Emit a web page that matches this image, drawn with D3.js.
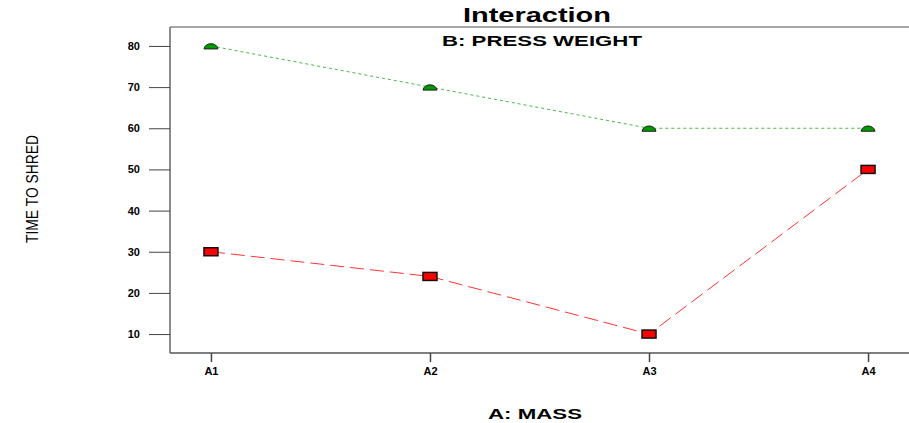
<!DOCTYPE html>
<html>
<head>
<meta charset="utf-8">
<script src="https://cdn.jsdelivr.net/npm/d3@7"></script>
<style>
body { margin: 0; background: #fff; }
text { font-family: "Liberation Sans", Arial, sans-serif; }
</style>
</head>
<body>
<div id="chart"></div>
<script>
var categories = ["A1", "A2", "A3", "A4"];
var greenValues = [80, 70, 60, 60];
var redValues = [30, 24, 10, 50];
var yTicks = [10, 20, 30, 40, 50, 60, 70, 80];

var width = 909, height = 423;
var margin = { left: 170, right: 0, top: 27, bottom: 70 };

var svg = d3.select("#chart").append("svg")
    .attr("width", width)
    .attr("height", height);

var x = d3.scalePoint()
    .domain(categories)
    .range([margin.left, width - margin.right])
    .padding(0.187);

var y = d3.scaleLinear()
    .domain([5.4, 84.6])
    .range([height - margin.bottom, margin.top]);

// frame
svg.append("line")
    .attr("x1", margin.left).attr("x2", width)
    .attr("y1", margin.top).attr("y2", margin.top)
    .attr("stroke", "#888").attr("stroke-width", 1.5);
svg.append("line")
    .attr("x1", margin.left).attr("x2", margin.left)
    .attr("y1", margin.top).attr("y2", height - margin.bottom)
    .attr("stroke", "#666").attr("stroke-width", 1.5);

// y axis
var yAxis = svg.append("g")
    .attr("transform", "translate(" + margin.left + ",0)")
    .call(d3.axisLeft(y).tickValues(yTicks).tickSize(21).tickPadding(9));
yAxis.select(".domain").remove();
yAxis.selectAll(".tick line").attr("stroke", "#444");
yAxis.selectAll("text")
    .attr("font-size", 11).attr("font-weight", "bold")
    .style("font-family", "'Liberation Sans', Arial, sans-serif")
    .attr("fill", "#000");

// x axis
var xAxis = svg.append("g")
    .attr("transform", "translate(0," + (height - margin.bottom) + ")")
    .call(d3.axisBottom(x).tickSize(9).tickPadding(5).tickSizeOuter(0));
xAxis.select(".domain")
    .attr("d", "M" + margin.left + ",0H" + width)
    .attr("stroke", "#555").attr("stroke-width", 1.5);
xAxis.selectAll(".tick line").attr("stroke", "#444").attr("stroke-width", 1.5);
xAxis.selectAll("text")
    .attr("font-size", 11).attr("font-weight", "bold")
    .style("font-family", "'Liberation Sans', Arial, sans-serif")
    .attr("fill", "#000");

var line = d3.line()
    .x(function (d, i) { return x(categories[i]); })
    .y(function (d) { return y(d); });

svg.append("path")
    .datum(greenValues)
    .attr("d", line)
    .attr("fill", "none")
    .attr("stroke", "#44bb44")
    .attr("stroke-width", 1)
    .attr("stroke-dasharray", "3,3");

svg.append("path")
    .datum(redValues)
    .attr("d", line)
    .attr("fill", "none")
    .attr("stroke", "#ff3333")
    .attr("stroke-width", 1)
    .attr("stroke-dasharray", "14,6");

// green dome markers
svg.selectAll(".gm")
    .data(greenValues)
    .enter()
    .append("path")
    .attr("class", "gm")
    .attr("transform", function (d, i) { return "translate(" + x(categories[i]) + "," + y(d) + ")"; })
    .attr("d", "M-7,3 C-6,-4 6,-4 7,3 Z")
    .attr("fill", "#009900")
    .attr("stroke", "#222")
    .attr("stroke-width", 1);

// red box markers
svg.selectAll(".rm")
    .data(redValues)
    .enter()
    .append("rect")
    .attr("class", "rm")
    .attr("x", function (d, i) { return x(categories[i]) - 7; })
    .attr("y", function (d) { return y(d) - 4; })
    .attr("width", 14)
    .attr("height", 8)
    .attr("fill", "#ff0000")
    .attr("stroke", "#111")
    .attr("stroke-width", 1.5);

// titles
svg.append("text")
    .attr("x", 463).attr("y", 22)
    .attr("font-size", 21).attr("font-weight", "bold")
    .attr("textLength", 148).attr("lengthAdjust", "spacingAndGlyphs")
    .text("Interaction");

svg.append("text")
    .attr("x", 442).attr("y", 46)
    .attr("font-size", 15.5).attr("font-weight", "bold")
    .attr("textLength", 200).attr("lengthAdjust", "spacingAndGlyphs")
    .text("B: PRESS WEIGHT");

svg.append("text")
    .attr("x", 488).attr("y", 419)
    .attr("font-size", 14).attr("font-weight", "bold")
    .attr("textLength", 94).attr("lengthAdjust", "spacingAndGlyphs")
    .text("A: MASS");

svg.append("text")
    .attr("transform", "translate(38,243) rotate(-90)")
    .attr("font-size", 16)
    .attr("textLength", 108).attr("lengthAdjust", "spacingAndGlyphs")
    .text("TIME TO SHRED");
</script>
</body>
</html>
